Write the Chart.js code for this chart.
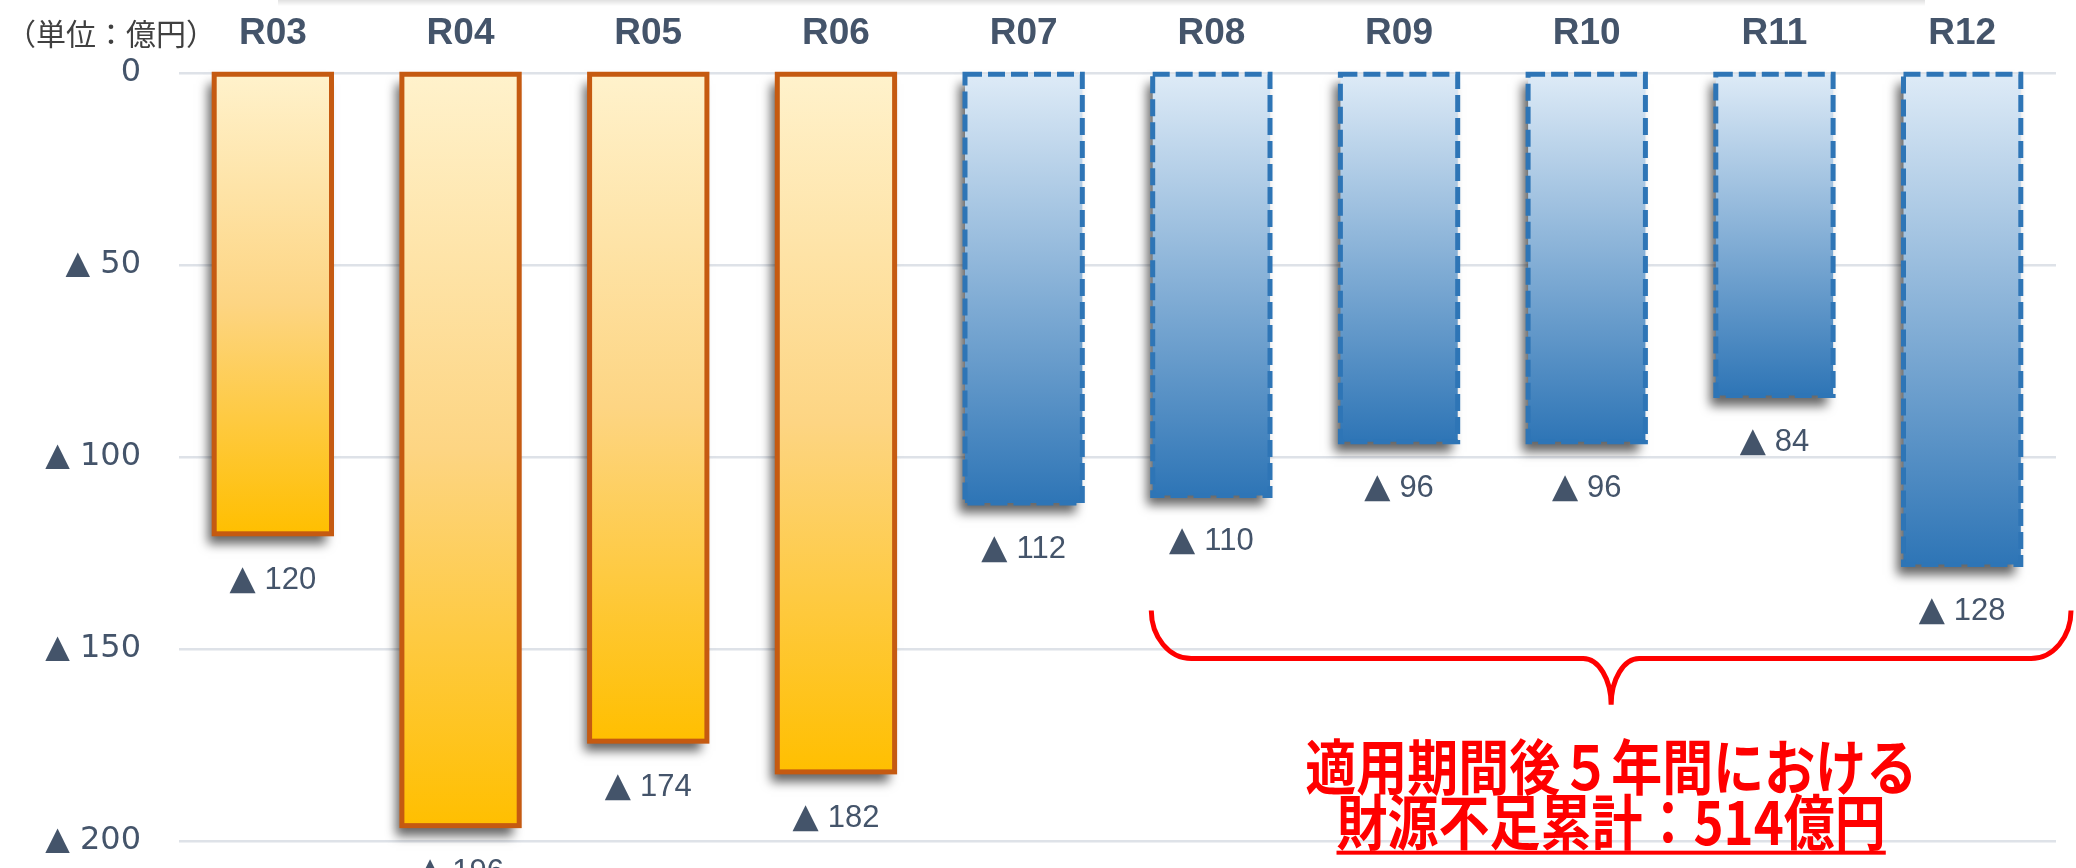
<!DOCTYPE html>
<html lang="ja">
<head>
<meta charset="utf-8">
<title>財源不足額の推移</title>
<script src="https://cdn.jsdelivr.net/npm/chart.js@4.4.1/dist/chart.umd.min.js"></script>
<style>
  html, body { margin: 0; padding: 0; background: #fff; }
  #chart { display: block; }
</style>
</head>
<body>
<canvas id="chart" width="2076" height="868"></canvas>
<script>
// 年度ごとの財源不足額（億円、マイナスは▲で表示）
const years = ['R03', 'R04', 'R05', 'R06', 'R07', 'R08', 'R09', 'R10', 'R11', 'R12'];
const shortfall = [-120, -196, -174, -182, -112, -110, -96, -96, -84, -128];
const actualCount = 4; // R03-R06 are results, after that estimates
const yTicks = [0, -50, -100, -150, -200];

// brace under R08-R12 and its note
const braceFrom = 5;
const braceTo = 9;
const noteLines = ['適用期間後５年間における', '財源不足累計：514億円'];
const unitLabel = '（単位：億円）';

const textColor = '#44546A';
const fmt = v => v === 0 ? '0' : '▲ ' + Math.abs(v);
const isActual = i => i < actualCount;

function barFill(context) {
    const chart = context.chart;
    if (!chart.chartArea || context.type !== 'data') return '#FFC000';
    const ys = chart.scales.y;
    const top = ys.getPixelForValue(0);
    const bottom = ys.getPixelForValue(context.raw);
    const g = chart.ctx.createLinearGradient(0, top, 0, bottom);
    if (isActual(context.dataIndex)) {
        g.addColorStop(0, '#FFF2CC');
        g.addColorStop(0.5, '#FDD583');
        g.addColorStop(1, '#FFBF00');
    } else {
        g.addColorStop(0, '#DEEBF7');
        g.addColorStop(1, '#2E75B6');
    }
    return g;
}

// soft drop shadow under the bars
const barShadow = {
    id: 'barShadow',
    beforeDatasetDraw(chart) {
        const ctx = chart.ctx;
        ctx.save();
        ctx.shadowColor = 'rgba(0, 0, 0, 0.6)';
        ctx.shadowBlur = 10;
        ctx.shadowOffsetX = -6;
        ctx.shadowOffsetY = 10;
    },
    afterDatasetDraw(chart) {
        chart.ctx.restore();
    }
};

// outlines, value labels, brace and notes
const decorations = {
    id: 'decorations',
    afterDatasetsDraw(chart) {
        const ctx = chart.ctx;
        const bars = chart.getDatasetMeta(0).data;
        const xs = chart.scales.x;
        const ys = chart.scales.y;

        bars.forEach((bar, i) => {
            ctx.save();
            ctx.lineWidth = 5;
            if (isActual(i)) {
                ctx.strokeStyle = '#C55A11';
            } else {
                ctx.strokeStyle = '#2E75B6';
                ctx.setLineDash([17, 6]);
            }
            ctx.strokeRect(bar.x - bar.width / 2, bar.base, bar.width, bar.y - bar.base);
            ctx.restore();
        });

        // value labels: triangle and number drawn as two pieces
        ctx.save();
        ctx.fillStyle = textColor;
        ctx.textBaseline = 'alphabetic';
        ctx.textAlign = 'left';
        const triFont = '34px "DejaVu Sans"';
        const numFont = '31px "Liberation Sans"';
        bars.forEach((bar, i) => {
            const num = String(Math.abs(shortfall[i]));
            ctx.font = triFont;
            const tw = ctx.measureText('▲').width;
            ctx.font = numFont;
            const nw = ctx.measureText(num).width;
            const gap = 9;
            const x0 = bar.x - (tw + gap + nw) / 2;
            const base = bar.y + 55;
            ctx.font = triFont;
            ctx.fillText('▲', x0, base);
            ctx.font = numFont;
            ctx.fillText(num, x0 + tw + gap, base);
        });
        ctx.restore();

        // brace
        const cw = xs.getPixelForValue(1) - xs.getPixelForValue(0);
        const left = xs.getPixelForValue(braceFrom) - 0.32 * cw;
        const right = xs.getPixelForValue(braceTo) + 0.58 * cw;
        const mid = (left + right) / 2;
        const yTop = ys.getPixelForValue(-140);
        const yLine = ys.getPixelForValue(-152.5);
        const yTip = ys.getPixelForValue(-164.5);
        const rx = 40, mx = 28, k = 0.55;
        ctx.save();
        ctx.strokeStyle = '#FF0000';
        ctx.lineWidth = 5;
        ctx.beginPath();
        ctx.moveTo(left, yTop);
        ctx.bezierCurveTo(left, yTop + k * (yLine - yTop), left + rx * (1 - k), yLine, left + rx, yLine);
        ctx.lineTo(mid - mx, yLine);
        ctx.bezierCurveTo(mid - mx * (1 - k), yLine, mid, yTip - k * (yTip - yLine), mid, yTip);
        ctx.bezierCurveTo(mid, yTip - k * (yTip - yLine), mid + mx * (1 - k), yLine, mid + mx, yLine);
        ctx.lineTo(right - rx, yLine);
        ctx.bezierCurveTo(right - rx * (1 - k), yLine, right, yTop + k * (yLine - yTop), right, yTop);
        ctx.stroke();
        ctx.restore();

        // note text under the brace
        ctx.save();
        ctx.fillStyle = '#FF0000';
        ctx.font = 'bold 60px "Noto Sans CJK JP"';
        ctx.textAlign = 'center';
        ctx.textBaseline = 'middle';
        const sx = 0.85;
        noteLines.forEach((line, n) => {
            const cy = yTip + 63 + n * 55;
            ctx.save();
            ctx.translate(mid, cy);
            ctx.scale(sx, 1);
            ctx.fillText(line, 0, 0);
            ctx.restore();
            if (n === 1) {
                const w = ctx.measureText(line).width * sx;
                ctx.fillRect(mid - w / 2, cy + 28, w, 4);
            }
        });
        ctx.restore();

        // unit
        ctx.save();
        ctx.fillStyle = '#404040';
        ctx.font = '30px "Noto Sans CJK JP"';
        ctx.textAlign = 'left';
        ctx.textBaseline = 'middle';
        ctx.fillText(unitLabel, 6, 34);
        ctx.restore();

        // faint shadow of the box above the chart
        ctx.save();
        const sh = ctx.createLinearGradient(0, 0, 0, 6);
        sh.addColorStop(0, 'rgba(0, 0, 0, 0.12)');
        sh.addColorStop(1, 'rgba(0, 0, 0, 0)');
        ctx.fillStyle = sh;
        ctx.fillRect(278, 0, 1647, 6);
        ctx.restore();
    }
};

const ctx = document.getElementById('chart').getContext('2d');
const chart = new Chart(ctx, {
    type: 'bar',
    data: {
        labels: years,
        datasets: [{
            label: '財源不足額',
            data: shortfall,
            backgroundColor: barFill,
            borderWidth: 0,
            categoryPercentage: 1,
            barPercentage: 0.625,
            clip: false
        }]
    },
    options: {
        responsive: false,
        animation: false,
        layout: { padding: { top: 0, right: 20, bottom: 27, left: 0 } },
        plugins: {
            legend: { display: false },
            tooltip: { enabled: false }
        },
        scales: {
            x: {
                position: 'top',
                grid: { display: false, drawTicks: false },
                border: { display: false },
                ticks: {
                    color: textColor,
                    font: { family: '"Liberation Sans"', size: 37, weight: 'bold' },
                    padding: 17,
                    maxRotation: 0
                },
                afterFit: axis => { axis.height = 73; }
            },
            y: {
                min: -200,
                max: 0,
                afterBuildTicks: axis => { axis.ticks = yTicks.map(v => ({ value: v })); },
                grid: { color: '#DEE2E8', lineWidth: 2.5, drawTicks: false },
                border: { display: false },
                ticks: {
                    color: textColor,
                    font: { family: '"DejaVu Sans"', size: 32 },
                    padding: 38,
                    callback: v => fmt(v)
                },
                afterFit: axis => {
                    axis.width = 179;
                    axis.paddingTop = 0;
                    axis.paddingBottom = 0;
                }
            }
        }
    },
    plugins: [barShadow, decorations]
});
</script>
</body>
</html>
